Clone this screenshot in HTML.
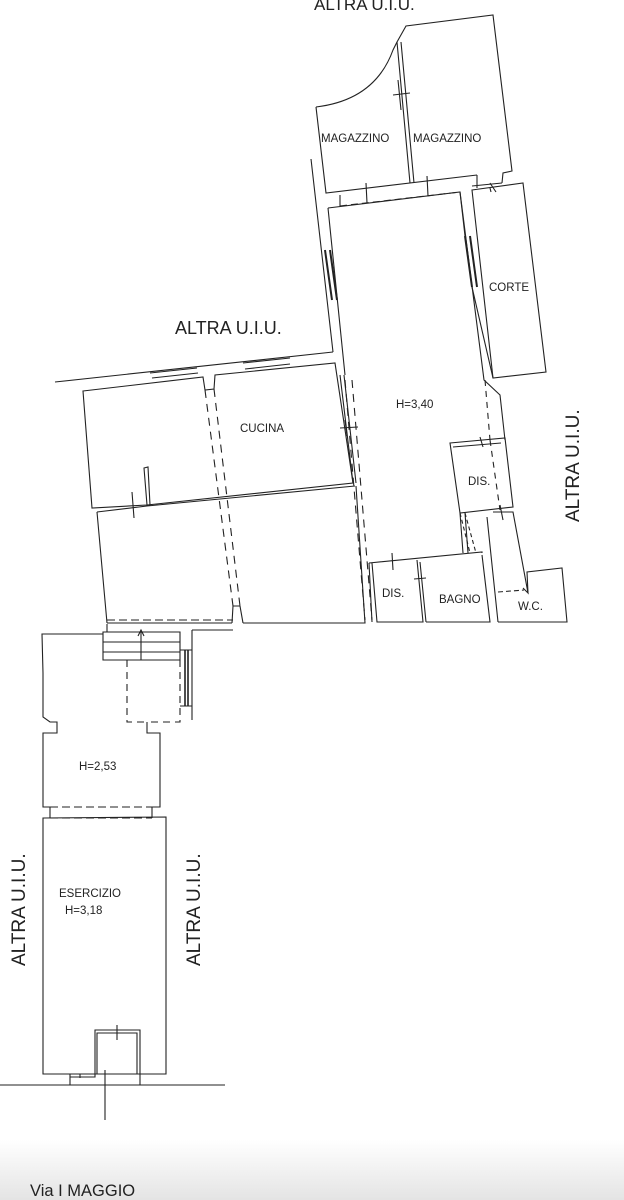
<!DOCTYPE html>
<html><head><meta charset="utf-8"><style>
html,body{margin:0;padding:0;width:624px;height:1200px;overflow:hidden;background:#fff}
svg{display:block}
text{font-family:"Liberation Sans",sans-serif;fill:#222}
</style></head><body>
<svg width="624" height="1200" viewBox="0 0 624 1200" xmlns="http://www.w3.org/2000/svg">
<defs><linearGradient id="g" x1="0" y1="0" x2="0" y2="1"><stop offset="0" stop-color="#fff"/><stop offset="1" stop-color="#e4e4e4"/></linearGradient></defs>
<rect x="0" y="1140" width="624" height="60" fill="url(#g)"/>
<g fill="none" stroke="#222" stroke-width="1.1">
<path d="M316,107 Q375,100 393,50 L397,42 L406,26 L493,15 L512,171 L503,173 L502,183"/>
<path d="M316,107 L326,193 L477,175"/>
<path d="M397,42 L410,183 M401,42 L414,183"/>
<path d="M393,95 L410,93 M398,80 L401,110"/>
<path d="M340,195 L340,206 M477,175 L477,188 M502,183 L472,186 M490,183 L496,192"/>
<path d="M340,206 L460,192" stroke-dasharray="7,4"/>
<path d="M366,183 L367,203 M427,176 L428,196 M490,188 L491,192"/>
<path d="M328,208 L460,192 L484,380 L500,395 L505,440"/>
<path d="M311,159 L333,352 M328,208 L345,375"/>
<path d="M325,250 L332,300 M330,250 L337,300" stroke-width="2"/>
<path d="M465,236 L472,287 M470,236 L477,287" stroke-width="2"/>
<path d="M460,192 L465,236 M472,287 L493,378"/>
<path d="M472,190 L523,183 L546,372 L493,378 Z"/>
<path d="M55,382 L333,352"/>
<path d="M150,373 L197,368 M152,378 L198,373 M243,363 L290,358 M245,369 L290,364" />
<path d="M83,391 L203,377 L205,390 L214,389 L215,375 L335,363 L353,483 L147,505 L92,508 Z"/>
<path d="M97,512 L147,506 L355,486"/>
<path d="M144,468 L147,505 L150,505 L148,467 Z"/>
<path d="M132,492 L134,518 M340,428 L358,427 M345,420 L347,436"/>
<path d="M340,375 L353,483 M344,375 L356,483"/>
<path d="M97,512 L107,623 M232,623 L107,623 M243,623 L365,623 L356,486"/>
<path d="M232,623 L233,606 L240,606 L243,623"/>
<path d="M205,390 L233,606 M214,389 L240,606 M345,380 L365,620 M352,380 L372,620" stroke-dasharray="8,6"/>
<path d="M450,443 L505,438 L513,507 L460,513 Z M453,447 L501,443"/>
<path d="M460,513 L463,553 M465,513 L468,553 M487,517 L498,622"/>
<path d="M480,437 L483,447 M500,505 L503,520" />
<path d="M485,380 L490,440 M490,440 L500,510" stroke-dasharray="6,5"/>
<path d="M460,513 L470,553 M465,513 L476,553" stroke-dasharray="4,3"/>
<path d="M369,563 L482,552 L482,553 M372,563 L377,622 L423,622 L417,560 M420,562 L426,622 M482,555 L490,622 L426,622"/>
<path d="M392,553 L393,570 M414,579 L426,578"/>
<path d="M369,563 L372,622"/>
<path d="M493,512 L513,512 L528,593 L523,588 M498,622 L567,622 L562,568 L527,572 L528,593"/>
<path d="M498,592 L524,590" stroke-dasharray="5,3"/>
<path d="M103,632 L180,632 L180,660 L103,660 Z M103,642 L180,642 M103,652 L180,652"/>
<path d="M107,620 L233,620 M107,632 L107,622" stroke-dasharray="8,4"/>
<path d="M141,632 L141,660 M138,636 L141,630 L144,636"/>
<path d="M127,660 L127,722 L147,722 M180,660 L180,722 L147,722" stroke-dasharray="7,5"/>
<path d="M192,630 L233,630 M192,630 L192,720 M180,650 L192,650 M180,706 L192,706"/>
<path d="M185,650 L185,706 M188,650 L188,706" stroke-width="1.6"/>
<path d="M103,634 L42,634 L43,673 L43,717 L50,722 L57,722 L57,733 L43,733 L43,807 L50,807 L50,818"/>
<path d="M147,722 L147,733 L160,733 L160,807 L152,807 L152,818"/>
<path d="M50,807 L152,807 M50,818 L152,818" stroke-dasharray="8,4"/>
<path d="M43,818 L166,817 L166,1074 L43,1074 Z"/>
<path d="M70,1074 L70,1085 M70,1077 L95,1077 L95,1030 L140,1030 L140,1085 M80,1074 L80,1078 M97,1074 L97,1033 L137,1033 L137,1074 M117,1025 L117,1040 M105,1070 L105,1120"/>
<path d="M0,1085 L225,1085"/>
</g>
<g font-size="11.5">
<text x="321" y="142">MAGAZZINO</text>
<text x="413" y="142">MAGAZZINO</text>
<text x="489" y="291">CORTE</text>
<text x="396" y="408">H=3,40</text>
<text x="240" y="432">CUCINA</text>
<text x="468" y="485">DIS.</text>
<text x="382" y="597">DIS.</text>
<text x="439" y="603">BAGNO</text>
<text x="518" y="610">W.C.</text>
<text x="79" y="770">H=2,53</text>
<text x="59" y="897">ESERCIZIO</text>
<text x="65" y="914">H=3,18</text>
</g>
<g font-size="17">
<text x="314" y="10">ALTRA U.I.U.</text>
<text x="175" y="334" font-size="18">ALTRA U.I.U.</text>
<text x="30" y="1196" font-size="16.5">Via I MAGGIO</text>
<text transform="translate(579,522) rotate(-90)" font-size="19">ALTRA U.I.U.</text>
<text transform="translate(25,966) rotate(-90)" font-size="19">ALTRA U.I.U.</text>
<text transform="translate(200,966) rotate(-90)" font-size="19">ALTRA U.I.U.</text>
</g>
</svg>
</body></html>
